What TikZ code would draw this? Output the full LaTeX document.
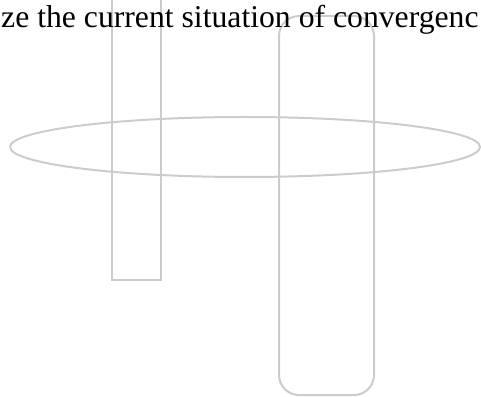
\documentclass[tikz,border=0pt]{standalone}
\usepackage{fontspec}
\setmainfont{Liberation Serif}
\usepackage{tikz}
\usepackage{xcolor}
\definecolor{shapegray}{HTML}{CCCCCC}

\begin{document}
\begin{tikzpicture}[x=1pt,y=1pt,outline/.style={draw=shapegray,line width=2pt}]
  \useasboundingbox (0,0) rectangle (481,396);
  \clip (0,0) rectangle (481,396);
  \draw[outline] (112,116) rectangle (161,420);
  \draw[outline,rounded corners=20pt] (279,1) rectangle (374,380);
  \draw[outline] (245,249) ellipse [x radius=235,y radius=30];
  \node[anchor=base west,inner sep=0pt,font=\fontsize{31.7}{36}\selectfont] (caption) at (1,368)
    {ze the current situation of convergenc};
\end{tikzpicture}
\end{document}
